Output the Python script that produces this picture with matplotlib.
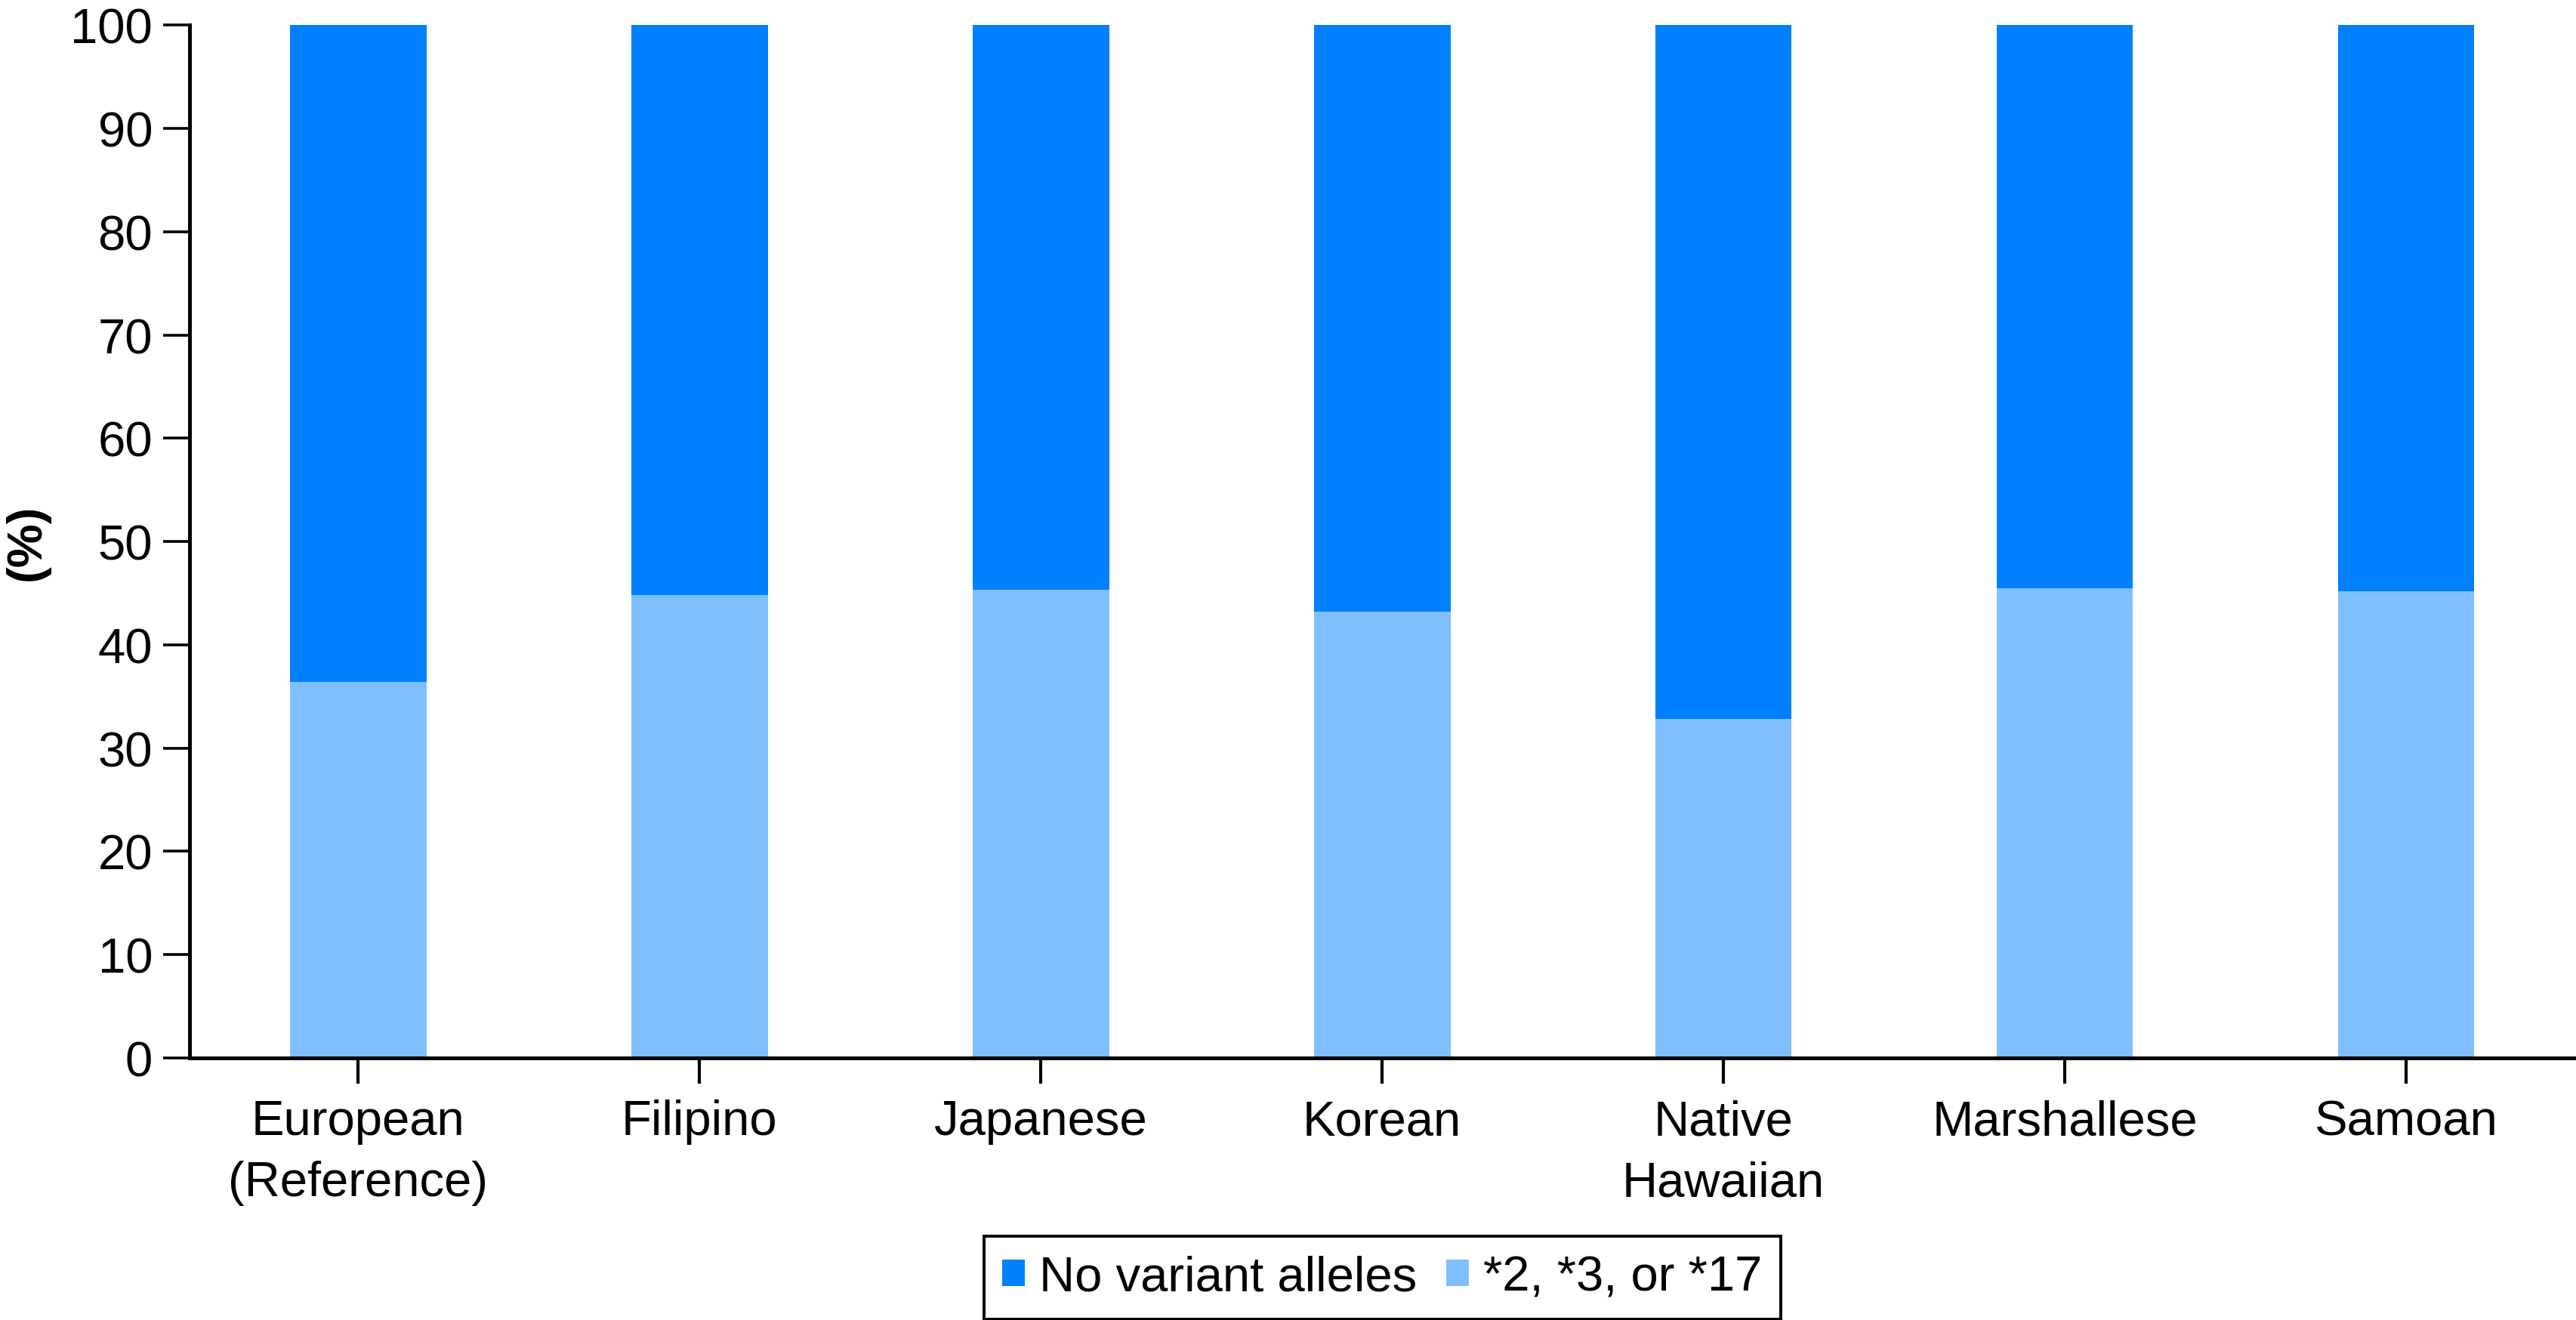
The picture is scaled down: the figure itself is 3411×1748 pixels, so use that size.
import matplotlib
matplotlib.use("Agg")
import matplotlib.pyplot as plt
from matplotlib.patches import Patch

categories = ["European\n(Reference)", "Filipino", "Japanese", "Korean",
              "Native\nHawaiian", "Marshallese", "Samoan"]
variant = [36.4, 44.8, 45.3, 43.2, 32.8, 45.5, 45.2]
no_variant = [100 - v for v in variant]
yticks = [0, 10, 20, 30, 40, 50, 60, 70, 80, 90, 100]

dark = "#0080FF"
light = "#80BFFF"
fs = 23.5

plt.rcParams['font.family'] = ['Liberation Sans', 'DejaVu Sans']

fig = plt.figure(figsize=(3412 / 200, 1749 / 200), dpi=200)
ax = fig.add_axes([251 / 3412, 1 - 1402 / 1749, 1 - 251 / 3412, (1402 - 34.3) / 1749])

x = list(range(len(categories)))
ax.bar(x, variant, width=0.4, color=light, linewidth=0)
ax.bar(x, no_variant, width=0.4, bottom=variant, color=dark, linewidth=0)

ax.set_xlim(-0.494, 6.5)
ax.set_ylim(0, 100)
ax.set_yticks(yticks)
ax.set_xticks(x)
ax.set_xticklabels(categories, fontsize=fs, linespacing=1.45)
ax.tick_params(axis='y', labelsize=fs, length=12.6, width=1.3, pad=5.0)
ax.tick_params(axis='x', labelsize=fs, length=12.2, width=1.5, pad=7.3)

for s in ['top', 'right']:
    ax.spines[s].set_visible(False)
for s in ['left', 'bottom']:
    ax.spines[s].set_linewidth(1.8)

ax.set_ylabel("(%)", fontsize=fs, fontweight='bold', labelpad=10)

handles = [Patch(facecolor=dark, edgecolor='none', label="No variant alleles"),
           Patch(facecolor=light, edgecolor='none', label="*2, *3, or *17")]
leg = fig.legend(handles=handles, loc='lower center', bbox_to_anchor=(0.5364, 0.0008),
                 ncol=2, fontsize=fs, frameon=True, fancybox=False, framealpha=1,
                 edgecolor='black', handlelength=0.45, handleheight=0.45,
                 handletextpad=0.29, columnspacing=0.6, borderpad=0.38,
                 borderaxespad=0.0)
leg.get_frame().set_linewidth(1.4)

fig.savefig("out.png", dpi=200)
